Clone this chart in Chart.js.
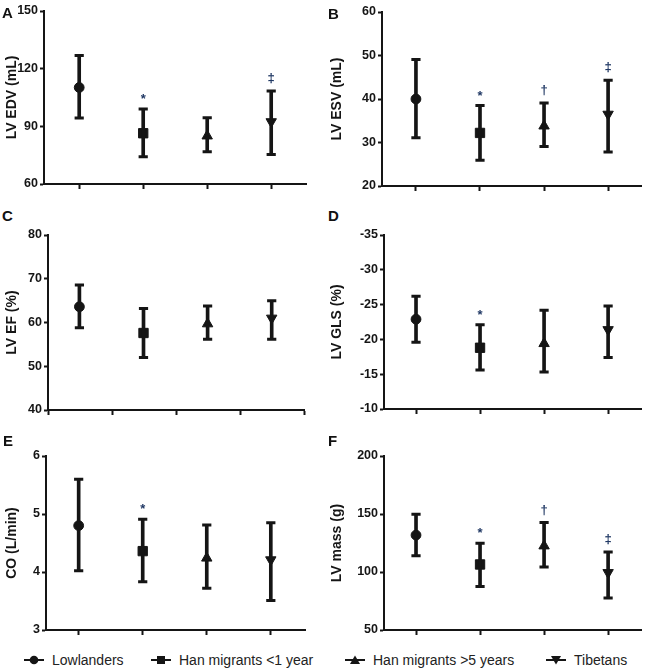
<!DOCTYPE html>
<html>
<head>
<meta charset="utf-8">
<script src="https://cdn.jsdelivr.net/npm/chart.js@4.4.1/dist/chart.umd.min.js"></script>
<style>
  body { margin: 0; background: #fff; }
  #page { position: relative; width: 649px; height: 671px; overflow: hidden; font-family: 'Liberation Sans', Arial, sans-serif; }
  canvas { position: absolute; }
  .letter { position: absolute; font-weight: bold; font-size: 15px; line-height: 15px; color: #111; }
  .key { position: absolute; top: 653px; height: 14px; font-size: 14px; line-height: 14px; color: #222; white-space: nowrap; }
  .key svg { position: absolute; left: 0; top: 1px; }
  .key span { position: absolute; left: 28px; top: 0; }
</style>
</head>
<body>
<div id="page">
  <canvas id="panelA"></canvas>
  <canvas id="panelB"></canvas>
  <canvas id="panelC"></canvas>
  <canvas id="panelD"></canvas>
  <canvas id="panelE"></canvas>
  <canvas id="panelF"></canvas>

  <div class="letter" style="left:2px; top:5px;">A</div>
  <div class="letter" style="left:328px; top:6px;">B</div>
  <div class="letter" style="left:2px; top:208px;">C</div>
  <div class="letter" style="left:328px; top:208px;">D</div>
  <div class="letter" style="left:3px; top:433px;">E</div>
  <div class="letter" style="left:328px; top:433px;">F</div>

  <div id="legend"></div>
</div>
<script>
'use strict';

// groups on the x axis
const groups = ['Lowlanders', 'Han migrants <1 year', 'Han migrants >5 years', 'Tibetans'];
const groupX = [1, 2, 3, 4];

// A - LV EDV (mL)
const edvMean = [110.2, 86.4, 85.0, 92.4];
const edvLow = [94.3, 74.2, 76.8, 75.4];
const edvHigh = [126.8, 99.0, 94.5, 108.4];
const edvMarks = ['', '*', '', '‡'];

// B - LV ESV (mL)
const esvMean = [40.0, 32.2, 33.8, 36.5];
const esvLow = [31.1, 25.9, 29.1, 27.8];
const esvHigh = [49.1, 38.5, 39.1, 44.3];
const esvMarks = ['', '*', '†', '‡'];

// C - LV EF (%)
const efMean = [63.6, 57.6, 59.7, 61.0];
const efLow = [58.8, 52.0, 56.2, 56.2];
const efHigh = [68.6, 63.2, 63.8, 65.0];
const efMarks = ['', '', '', ''];

// D - LV GLS (%)
const glsMean = [-22.9, -18.8, -19.4, -21.4];
const glsLow = [-19.6, -15.6, -15.3, -17.4];
const glsHigh = [-26.2, -22.1, -24.2, -24.8];
const glsMarks = ['', '*', '', ''];

// E - CO (L/min)
const coMean = [4.80, 4.36, 4.24, 4.21];
const coLow = [4.02, 3.83, 3.72, 3.51];
const coHigh = [5.60, 4.91, 4.81, 4.85];
const coMarks = ['', '*', '', ''];

// F - LV mass (g)
const massMean = [131.8, 106.5, 122.5, 99.5];
const massLow = [114.0, 87.5, 104.4, 77.5];
const massHigh = [149.8, 124.8, 142.6, 117.3];
const massMarks = ['', '*', '†', '‡'];

// marker look per group
const shapes = ['circle', 'rect', 'triangle', 'triangle'];
const turns = [0, 0, 0, 180];
const sizes = [4.9, 6.6, 6, 6];

const ink = '#151515';
const markInk = '#203864';
const family = "'Liberation Sans', Arial, sans-serif";

// significance symbols above the upper whisker
function marksPlugin(low, high, marks) {
  return {
    id: 'marks',
    afterDatasetsDraw(chart) {
      const xs = chart.scales.x;
      const ys = chart.scales.y;
      const ctx = chart.ctx;
      ctx.save();
      ctx.font = 'bold 13px ' + family;
      ctx.fillStyle = markInk;
      ctx.textAlign = 'center';
      ctx.textBaseline = 'alphabetic';
      for (let i = 0; i < marks.length; i++) {
        if (!marks[i]) continue;
        const top = Math.min(ys.getPixelForValue(low[i]), ys.getPixelForValue(high[i]));
        const m = ctx.measureText(marks[i]);
        const cy = top - 12.5;
        ctx.fillText(marks[i], xs.getPixelForValue(groupX[i]),
          cy + (m.actualBoundingBoxAscent - m.actualBoundingBoxDescent) / 2);
      }
      ctx.restore();
    }
  };
}

function makePanel(p) {
  const canvas = document.getElementById(p.id);
  const padTop = 10;
  const axisH = 12;
  const padRight = 2;
  canvas.width = p.box.right + padRight - p.col;
  canvas.height = p.box.bottom - p.box.top + padTop + axisH;
  canvas.style.left = p.col + 'px';
  canvas.style.top = (p.box.top - padTop) + 'px';

  new Chart(canvas, {
    type: 'scatter',
    data: {
      datasets: [
        {
          type: 'bar',
          data: groupX.map((x, i) => ({ x: x, y: [p.low[i], p.high[i]] })),
          backgroundColor: ink,
          borderWidth: 0,
          barThickness: 3
        },
        {
          type: 'scatter',
          data: groupX.flatMap((x, i) => [{ x: x, y: p.low[i] }, { x: x, y: p.high[i] }]),
          pointStyle: 'line',
          pointRadius: 4.6,
          pointBorderColor: ink,
          pointBorderWidth: 3
        },
        {
          type: 'scatter',
          data: groupX.map((x, i) => ({ x: x, y: p.mean[i] })),
          pointStyle: shapes,
          pointRotation: turns,
          pointRadius: sizes,
          pointBackgroundColor: ink,
          pointBorderColor: ink,
          pointBorderWidth: 1
        }
      ]
    },
    options: {
      responsive: false,
      animation: false,
      events: [],
      layout: { padding: { top: padTop, right: padRight, left: 0, bottom: 0 } },
      plugins: { legend: { display: false }, tooltip: { enabled: false } },
      scales: {
        x: {
          type: 'linear',
          min: p.xr[0],
          max: p.xr[1],
          offset: false,
          afterFit: s => { s.height = axisH; },
          ticks: { display: false, stepSize: 1, includeBounds: false },
          grid: { drawOnChartArea: false, drawTicks: true, tickLength: 5, tickWidth: 2, tickColor: ink, offset: false },
          border: { display: true, color: ink, width: 2 }
        },
        y: {
          type: 'linear',
          min: p.ymin,
          max: p.ymax,
          reverse: !!p.reverse,
          beginAtZero: false,
          afterFit: s => { s.width = p.box.left - p.col; },
          ticks: { stepSize: p.step, color: ink, padding: 2, font: { family: family, size: 12.5, weight: 'bold' } },
          grid: { drawOnChartArea: false, drawTicks: true, tickLength: 4, tickWidth: 2, tickColor: ink },
          border: { display: true, color: ink, width: 2 },
          title: {
            display: true,
            text: p.title,
            color: ink,
            padding: { top: 4, bottom: 0 },
            font: { family: family, size: 14, weight: 'bold', lineHeight: 1.2 }
          }
        }
      }
    },
    plugins: [marksPlugin(p.low, p.high, p.marks)]
  });
}

makePanel({ id: 'panelA', col: 0, box: { left: 44, top: 11, right: 312, bottom: 184 }, xr: [0.45, 4.55],
  ymin: 60, ymax: 150, step: 30, title: 'LV EDV (mL)', mean: edvMean, low: edvLow, high: edvHigh, marks: edvMarks });
makePanel({ id: 'panelB', col: 325, box: { left: 382, top: 12, right: 647, bottom: 186 }, xr: [0.47, 4.52],
  ymin: 20, ymax: 60, step: 10, title: 'LV ESV (mL)', mean: esvMean, low: esvLow, high: esvHigh, marks: esvMarks });
makePanel({ id: 'panelC', col: 0, box: { left: 48, top: 235, right: 310, bottom: 410 }, xr: [0.51, 4.51],
  ymin: 40, ymax: 80, step: 10, title: 'LV EF (%)', mean: efMean, low: efLow, high: efHigh, marks: efMarks });
makePanel({ id: 'panelD', col: 325, box: { left: 384, top: 235, right: 647, bottom: 409 }, xr: [0.5, 4.52],
  ymin: -35, ymax: -10, step: 5, reverse: true, title: 'LV GLS (%)', mean: glsMean, low: glsLow, high: glsHigh, marks: glsMarks });
makePanel({ id: 'panelE', col: 0, box: { left: 46, top: 456, right: 311, bottom: 630 }, xr: [0.49, 4.54],
  ymin: 3, ymax: 6, step: 1, title: 'CO (L/min)', mean: coMean, low: coLow, high: coHigh, marks: coMarks });
makePanel({ id: 'panelF', col: 325, box: { left: 384, top: 456, right: 647, bottom: 630 }, xr: [0.5, 4.52],
  ymin: 50, ymax: 200, step: 50, title: 'LV mass (g)', mean: massMean, low: massLow, high: massHigh, marks: massMarks });

// legend under the panels
const keyLeft = [24, 151, 345, 546];
const keyShapes = [
  '<circle cx="10" cy="6" r="4.3" fill="#151515"/>',
  '<rect x="6" y="2" width="8" height="8" fill="#151515"/>',
  '<polygon points="10,1.5 15,10 5,10" fill="#151515"/>',
  '<polygon points="10,10.5 15,2 5,2" fill="#151515"/>'
];
const legend = document.getElementById('legend');
groups.forEach((g, i) => {
  const item = document.createElement('div');
  item.className = 'key';
  item.style.left = keyLeft[i] + 'px';
  item.innerHTML = '<svg width="20" height="12"><line x1="0" y1="6" x2="20" y2="6" stroke="#151515" stroke-width="2"/>' +
    keyShapes[i] + '</svg>';
  const label = document.createElement('span');
  label.textContent = g;
  item.appendChild(label);
  legend.appendChild(item);
});
</script>
</body>
</html>
